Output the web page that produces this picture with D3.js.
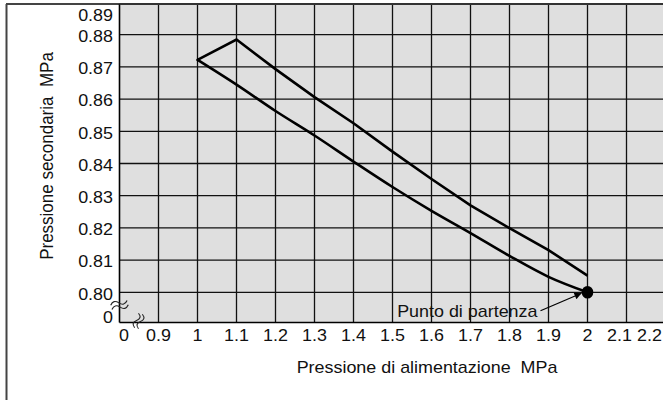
<!DOCTYPE html>
<html><head><meta charset="utf-8">
<script src="https://cdn.jsdelivr.net/npm/d3@7"></script>
<style>body{margin:0;background:#fff}svg{display:block}text{font-family:"Liberation Sans",Arial,sans-serif;fill:#111;white-space:pre}</style>
</head><body><svg id="c" width="663" height="400"></svg>
<script>
// ---- data ----
const xTicks = [0, 0.9, 1, 1.1, 1.2, 1.3, 1.4, 1.5, 1.6, 1.7, 1.8, 1.9, 2, 2.1, 2.2];
const xTickLabels = ["0","0.9","1","1.1","1.2","1.3","1.4","1.5","1.6","1.7","1.8","1.9","2","2.1","2.2"];
const yTicks = [0, 0.80, 0.81, 0.82, 0.83, 0.84, 0.85, 0.86, 0.87, 0.88, 0.89];
const yTickLabels = ["0","0.80","0.81","0.82","0.83","0.84","0.85","0.86","0.87","0.88","0.89"];
const lowerX = [1.0, 1.1, 1.2, 1.3, 1.4, 1.5, 1.6, 1.7, 1.8, 1.9, 2.0];
const lowerY = [0.8722, 0.8645, 0.8563, 0.8487, 0.8406, 0.8327, 0.8253, 0.8184, 0.8113, 0.8048, 0.8000];
const upperX = [1.0, 1.1, 1.2, 1.3, 1.4, 1.5, 1.6, 1.7, 1.8, 1.9, 2.0];
const upperY = [0.8722, 0.8785, 0.8693, 0.8606, 0.8525, 0.8437, 0.8352, 0.8270, 0.8199, 0.8131, 0.8052];
const startPoint = [2.0, 0.800];
const startLabel = "Punto di partenza";
const xTitle = "Pressione di alimentazione  MPa";
const yTitle = "Pressione secondaria  MPa";

// ---- layout ----
const svg = d3.select("#c");
const SX = 1.12; // horizontal stretch of the original artwork
const x = d3.scaleLinear().domain([0, 0.9, 2.2]).range([119.5, 158.5, 665.5]);
const y = d3.scaleLinear().domain([0, 0.80, 0.89]).range([322.5, 292.3, 2.5]);
const pL = x(0), pR = 663, pT = 4, pB = y(0);

// outer frame
svg.append("line").attr("x1",6.5).attr("x2",6.5).attr("y1",4).attr("y2",400).attr("stroke","#444").attr("stroke-width",2);
svg.append("line").attr("x1",6).attr("x2",663).attr("y1",4).attr("y2",4).attr("stroke","#444").attr("stroke-width",2);

// plot background
svg.append("rect").attr("x",pL).attr("y",pT).attr("width",pR-pL).attr("height",pB-pT).attr("fill","#dfdfdf");

// grid
const g = svg.append("g").attr("stroke","#111").attr("stroke-width",1.3);
xTicks.filter(d=>d>0).forEach(d=>{
  g.append("line").attr("x1",x(d)).attr("x2",x(d)).attr("y1",pT).attr("y2",pB);
});
yTicks.filter(d=>d>0 && d<0.89).forEach(d=>{
  g.append("line").attr("x1",pL).attr("x2",pR).attr("y1",y(d)).attr("y2",y(d));
});
// axes borders
svg.append("line").attr("x1",pL).attr("x2",pL).attr("y1",pT).attr("y2",pB).attr("stroke","#000").attr("stroke-width",1.6);
svg.append("line").attr("x1",pL).attr("x2",pR).attr("y1",pB).attr("y2",pB).attr("stroke","#000").attr("stroke-width",1.6);
svg.append("line").attr("x1",pL).attr("x2",pR).attr("y1",pT).attr("y2",pT).attr("stroke","#333").attr("stroke-width",2);

// tick labels
const fs = 16;
function stext(px, py, str, anchor, size){
  return svg.append("text").attr("transform",`translate(${px},${py}) scale(${SX},1)`)
    .attr("text-anchor",anchor).attr("font-size",size||fs).text(str);
}
const xLabelShift = {0:4.5, 2.1:-7, 2.2:-16};
xTicks.forEach((d,i)=>{
  stext(x(d)+(xLabelShift[d]||0), 340.5, xTickLabels[i], "middle");
});
const yLabelShift = {0:-5, 0.89:12.5};
yTicks.forEach((d,i)=>{
  stext(113, y(d)+5.8+(yLabelShift[d]!==undefined?yLabelShift[d]:1.5), yTickLabels[i], "end");
});

// axis break marks (two wavy strokes each)
const wave = "M-8,0 q4,-5 8,0 t8,0";
function breakMark(cx, cy, angle, len, gap){
  const bg = svg.append("g").attr("transform",`translate(${cx},${cy}) rotate(${angle}) scale(${len/16},1)`)
    .attr("fill","none").attr("stroke","#222").attr("stroke-width",1.1);
  bg.append("path").attr("d",wave).attr("transform",`translate(0,${-gap/2})`);
  bg.append("path").attr("d",wave).attr("transform",`translate(0,${gap/2})`);
}
breakMark(pL, 305, -16, 17, 4.5);
breakMark(138.5, 321, -75, 15, 4);

// titles
stext(427, 373, xTitle, "middle");
svg.append("text").attr("transform",`translate(53,156) scale(${SX},1) rotate(-90)`).attr("text-anchor","middle")
  .attr("font-size",17).text(yTitle);

// curves
const lineLin = d3.line().x(d=>x(d[0])).y(d=>y(d[1])).curve(d3.curveLinear);
const lineSmooth = d3.line().x(d=>x(d[0])).y(d=>y(d[1])).curve(d3.curveMonotoneX);
const lowerPts = lowerX.map((v,i)=>[v, lowerY[i]]);
const upperPts = upperX.map((v,i)=>[v, upperY[i]]);
svg.append("path").attr("d",lineSmooth(lowerPts)).attr("fill","none").attr("stroke","#000").attr("stroke-width",2.6).attr("stroke-linecap","round");
svg.append("path").attr("d",lineLin(upperPts)).attr("fill","none").attr("stroke","#000").attr("stroke-width",2.6).attr("stroke-linejoin","miter");

// start point
svg.append("ellipse").attr("cx",x(startPoint[0])).attr("cy",y(startPoint[1])).attr("rx",5.8).attr("ry",6.3).attr("fill","#000");

// annotation
svg.append("defs").append("marker").attr("id","ah").attr("viewBox","0 0 10 10").attr("refX",10).attr("refY",5)
  .attr("markerWidth",11).attr("markerHeight",7).attr("markerUnits","userSpaceOnUse").attr("orient","auto")
  .append("path").attr("d","M0,0L10,5L0,10z").attr("fill","#000");
const tx = x(startPoint[0]) - 50, ty = y(startPoint[1]) + 24.5;
stext(tx, ty, startLabel, "end");
svg.append("line").attr("x1",tx+3).attr("y1",ty-6).attr("x2",x(startPoint[0])-6).attr("y2",y(startPoint[1])+1)
  .attr("stroke","#000").attr("stroke-width",1.2).attr("marker-end","url(#ah)");
</script></body></html>
